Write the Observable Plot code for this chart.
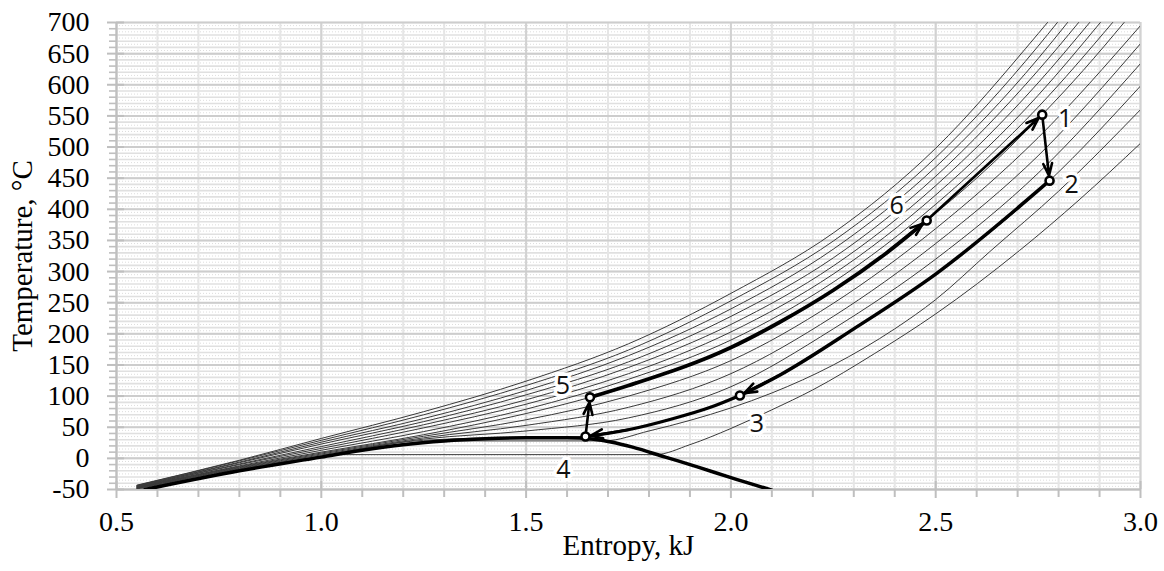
<!DOCTYPE html>
<html>
<head>
<meta charset="utf-8">
<script src="https://cdn.jsdelivr.net/npm/d3@7"></script>
<script src="https://cdn.jsdelivr.net/npm/@observablehq/plot@0.6"></script>
<style>
html,body{margin:0;padding:0;background:#fff;overflow:hidden}
#chart svg{display:block}
</style>
</head>
<body>
<div id="chart"></div>
<script>
// ---------- axis ticks ----------
const xTicks = [0.5, 1.0, 1.5, 2.0, 2.5, 3.0];
const yTicks = [-50, 0, 50, 100, 150, 200, 250, 300, 350, 400, 450, 500, 550, 600, 650, 700];
const xMinorTicks = d3.range(5, 31).map(d => d / 10);
const yMinorTicks = d3.range(-50, 701, 10);
const yHalfTicks = d3.range(-45, 700, 10);
const xTitle = "Entropy, kJ";
const yTitle = "Temperature, \u00B0C";

// ---------- isobars [entropy, temperature] ----------
const iso1  = [[0.55,-43],[0.8,-3],[1.0,32],[1.25,75],[1.5,124],[1.75,184],[2.0,265],[2.25,362],[2.5,498],[2.75,682],[2.773,700]];
const iso2  = [[0.55,-43.5],[0.8,-4],[1.0,29],[1.25,70],[1.5,117],[1.75,174],[2.0,253],[2.25,349],[2.5,483],[2.75,662],[2.797,700]];
const iso3  = [[0.55,-44],[0.8,-6],[1.0,26],[1.25,64],[1.5,109],[1.75,165],[2.0,240],[2.25,336],[2.5,468],[2.75,642],[2.822,700]];
const iso4  = [[0.55,-44.5],[0.8,-7],[1.0,23],[1.25,59],[1.5,102],[1.75,155],[2.0,228],[2.25,322],[2.5,453],[2.75,623],[2.849,700]];
const iso5  = [[0.55,-45],[0.8,-9],[1.0,19],[1.25,54],[1.5,94],[1.75,146],[2.0,215],[2.25,309],[2.5,438],[2.75,603],[2.876,700]];
const iso6  = [[0.55,-45.5],[0.8,-10],[1.0,16],[1.25,49],[1.5,87],[1.75,136],[2.0,203],[2.25,296],[2.5,423],[2.75,583],[2.902,700]];
const iso7  = [[0.55,-46],[0.8,-12],[1.0,13],[1.25,43],[1.5,79],[1.75,127],[2.0,190],[2.25,283],[2.5,408],[2.75,564],[2.932,700]];
const iso8  = [[0.55,-46.5],[0.8,-13],[1.0,10],[1.25,38],[1.5,72],[1.656,98],[1.75,117],[2.0,178],[2.12,219],[2.25,270],[2.38,330],[2.478,382],[2.6,450],[2.76,552],[2.86,623],[2.96,700]];
const iso9  = [[0.55,-47],[0.8,-14],[1.0,8.5],[1.25,35.5],[1.5,62],[1.75,100],[2.0,157],[2.25,249],[2.5,369],[2.75,515],[3.0,695]];
const iso10 = [[0.55,-47.5],[0.8,-15],[1.0,7],[1.25,33],[1.5,53],[1.75,82],[2.0,136],[2.25,228],[2.5,345],[2.75,486],[3.0,666]];
const iso11 = [[0.55,-48],[0.8,-16],[1.0,5.5],[1.25,31],[1.5,44],[1.75,65],[2.0,115],[2.25,208],[2.5,320],[2.75,458],[3.0,634]];
const iso12 = [[0.55,-48.5],[0.8,-17],[1.0,4],[1.25,29],[1.5,34],[1.645,35],[1.75,46],[1.86,64],[1.95,82],[2.022,101],[2.12,134],[2.3,208],[2.5,296],[2.778,446],[3.0,598]];
const iso13 = [[0.55,-49],[0.8,-18.5],[1.0,3],[1.2,23.5],[1.28,28],[1.69,28],[1.8,44],[1.9,61],[2.0,81],[2.1,105],[2.25,150],[2.4,208],[2.5,255],[2.632,332],[2.8,429],[3.0,560]];
const iso14 = [[0.56,-49.5],[0.8,-19.5],[1.0,2.5],[1.036,6],[1.815,6],[1.9,22],[2.0,48],[2.1,78],[2.2,110],[2.35,168],[2.5,232],[2.705,334],[2.85,415],[3.0,506]];
const isobars = [iso1, iso2, iso3, iso4, iso5, iso6, iso7, iso8, iso9, iso10, iso11, iso12, iso13, iso14];

// ---------- saturation dome ----------
const dome = [[0.57,-50],[0.8,-20],[1.0,2],[1.1,13],[1.2,22],[1.3,28],[1.4,31.5],[1.5,33],[1.6,33],[1.66,31],[1.71,26],[1.76,18],[1.84,2],[1.92,-14],[2.0,-31],[2.1,-51]];

// ---------- cycle states ----------
const stateLabels = ["1", "2", "3", "4", "5", "6"];
const stateS = [2.76, 2.778, 2.022, 1.645, 1.656, 2.478];
const stateT = [552, 446, 101, 35, 98, 382];

// ---------- cycle paths (in direction of flow) ----------
const path56 = [[1.656,98],[1.75,117],[2.0,178],[2.12,219],[2.25,270],[2.38,330],[2.478,382]];
const path23 = [[2.778,446],[2.5,296],[2.3,208],[2.12,134],[2.022,101]];
const path34 = [[2.022,101],[1.95,82],[1.86,64],[1.75,46],[1.645,35]];
const straightLegs = [["6","1"], ["1","2"], ["4","5"]];

// ---------- build tables ----------
const isoRows = isobars.flatMap((pts, k) => pts.map(([s, t]) => ({id: k, s, t})));
const states = stateLabels.map((l, i) => ({label: l, s: stateS[i], t: stateT[i]}));
const byLabel = Object.fromEntries(states.map(d => [d.label, d]));
const asc = p => p.slice().sort((a, b) => a[0] - b[0]);
const tail = p => ({x1: p[p.length - 2][0], y1: p[p.length - 2][1], x2: p[p.length - 1][0], y2: p[p.length - 1][1]});
const curveArrows = [tail(path23), tail(path34), tail(path56)];
const legArrows = straightLegs.map(([a, b]) => ({x1: byLabel[a].s, y1: byLabel[a].t, x2: byLabel[b].s, y2: byLabel[b].t}));

// label nudges (pixels)
const nudge = {"1": [23, 4], "2": [22, 4], "3": [17, 29], "4": [-22, 33], "5": [-27, -11], "6": [-30, -15]};

const isMajorX = v => Math.round(v * 10) % 5 === 0;
const gridGray = "#bfbfbf";
const serif = "'Liberation Serif','Times New Roman',serif";

const chart = Plot.plot({
  width: 1164,
  height: 571,
  marginLeft: 116,
  marginRight: 24,
  marginTop: 22,
  marginBottom: 82,
  x: {domain: [0.5, 3.0], axis: null},
  y: {domain: [-50, 700], axis: null},
  style: {fontFamily: serif, fontSize: "28px", background: "#fff", color: "#000", overflow: "visible"},
  marks: [
    // grid
    Plot.ruleY(yHalfTicks, {stroke: "#d4d4d4", strokeWidth: 0.8, strokeDasharray: "1,2"}),
    Plot.ruleY(yMinorTicks, {stroke: "#e0e0e0", strokeWidth: 1.6}),
    Plot.ruleX(xMinorTicks, {stroke: "#e6e6e6", strokeWidth: 2}),
    Plot.ruleX(xTicks, {stroke: "#d2d2d2", strokeWidth: 2}),
    Plot.ruleY(yTicks, {stroke: "#cdcdcd", strokeWidth: 2}),
    // axis lines
    Plot.ruleX([0.5], {stroke: gridGray, strokeWidth: 2}),
    Plot.ruleY([-50], {stroke: gridGray, strokeWidth: 2}),
    // tick marks
    Plot.ruleY(yTicks, {x1: 0.5, x2: 0.5, insetLeft: -9, insetRight: -8, stroke: gridGray, strokeWidth: 2}),
    Plot.ruleY(yMinorTicks.filter(v => v % 50 !== 0), {x1: 0.5, x2: 0.5, insetLeft: -7, insetRight: 0, stroke: gridGray, strokeWidth: 1.6}),
    Plot.ruleX(xTicks, {y1: -50, y2: -50, insetTop: -8, insetBottom: -9, stroke: gridGray, strokeWidth: 2}),
    Plot.ruleX(xMinorTicks.filter(v => !isMajorX(v)), {y1: -50, y2: -50, insetTop: 0, insetBottom: -8, stroke: gridGray, strokeWidth: 2}),
    // tick labels
    Plot.axisX(xTicks, {tickSize: 0, tickPadding: 22, tickFormat: d3.format(".1f"), label: null, fontSize: 28, fontFamily: serif}),
    Plot.axisY(yTicks, {tickSize: 0, tickPadding: 27, tickFormat: d => String(d), label: null, fontSize: 28, fontFamily: serif}),
    // axis titles
    Plot.text([xTitle], {frameAnchor: "bottom", dy: 65, text: d => d, fontSize: 29, fontFamily: serif, textAnchor: "middle"}),
    Plot.text([yTitle], {frameAnchor: "left", dx: -94, rotate: -90, text: d => d, fontSize: 29, fontFamily: serif, textAnchor: "middle"}),
    // isobars
    Plot.line(isoRows, {x: "s", y: "t", z: "id", curve: "monotone-x", stroke: "#3a3a3a", strokeWidth: 1, clip: true}),
    // saturation dome
    Plot.line(dome, {x: d => d[0], y: d => d[1], curve: "monotone-x", stroke: "#000", strokeWidth: 3.5, clip: true}),
    // cycle curved legs
    Plot.line(asc(path56), {x: d => d[0], y: d => d[1], curve: "monotone-x", stroke: "#000", strokeWidth: 3.8}),
    Plot.line(asc(path23), {x: d => d[0], y: d => d[1], curve: "monotone-x", stroke: "#000", strokeWidth: 3.5}),
    Plot.line(asc(path34), {x: d => d[0], y: d => d[1], curve: "monotone-x", stroke: "#000", strokeWidth: 3.2}),
    // arrowheads on curved legs
    Plot.arrow(curveArrows, {x1: "x1", y1: "y1", x2: "x2", y2: "y2", stroke: "#000", strokeWidth: 2.6, headLength: 7.5, headAngle: 40, insetEnd: 5}),
    // straight legs
    Plot.arrow(legArrows, {x1: "x1", y1: "y1", x2: "x2", y2: "y2", stroke: "#000", strokeWidth: 2.6, headLength: 7.5, headAngle: 40, insetStart: 4, insetEnd: 5}),
    // state markers
    Plot.dot(states, {x: "s", y: "t", r: 4, stroke: "#000", strokeWidth: 2.6, fill: "#fff"}),
    // state labels
    ...stateLabels.map(l => Plot.text(states.filter(d => d.label === l), {
      x: "s", y: "t", text: "label", dx: nudge[l][0], dy: nudge[l][1],
      fontFamily: "'Open Sans','Noto Sans',sans-serif", fontSize: 25, fill: "#111",
      stroke: "#fff", strokeWidth: 7
    }))
  ]
});
document.getElementById("chart").appendChild(chart);
</script>
</body>
</html>
